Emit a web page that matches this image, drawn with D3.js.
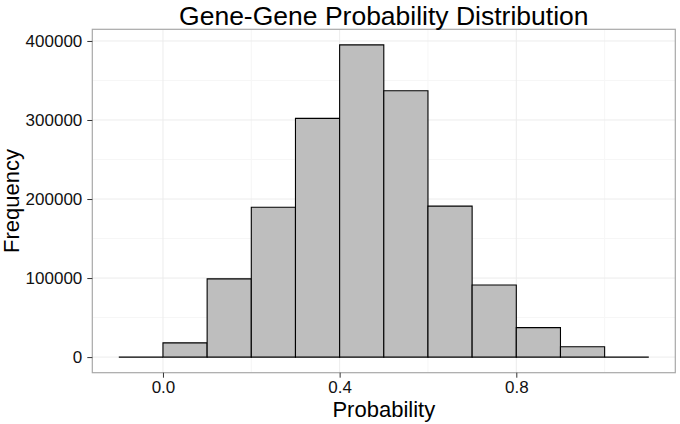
<!DOCTYPE html>
<html>
<head>
<meta charset="utf-8">
<script src="https://cdn.jsdelivr.net/npm/d3@7"></script>
<style>
  body { margin: 0; background: #fff; }
  text { font-family: "Liberation Sans", Arial, Helvetica, sans-serif; }
</style>
</head>
<body>
<svg id="chart" width="680" height="424"></svg>
<script>
// histogram bins (left edges, width 0.1) and counts
const binStarts = [-0.1, 0.0, 0.1, 0.2, 0.3, 0.4, 0.5, 0.6, 0.7, 0.8, 0.9, 1.0];
const counts = [0, 18000, 99000, 189500, 302000, 395000, 337000, 191000, 91300, 37300, 13000, 0];
const binWidth = 0.1;
const xTicks = [0.0, 0.4, 0.8];
const xMinor = [0.2, 0.6, 1.0];
const yTicks = [0, 100000, 200000, 300000, 400000];
const yMinor = [50000, 150000, 250000, 350000];

const svg = d3.select("#chart");

const pLeft = 92.3, pRight = 675.3, pTop = 29.3, pBottom = 372.7;

const x = d3.scaleLinear().domain([-0.16, 1.16]).range([pLeft, pRight]);
const y = d3.scaleLinear().domain([-19750, 414750]).range([pBottom, pTop]);

const grid = svg.append("g");

grid.selectAll(".xminor")
	.data(xMinor)
	.enter()
	.append("line")
	.attr("x1", d => x(d)).attr("x2", d => x(d))
	.attr("y1", pTop).attr("y2", pBottom)
	.attr("stroke", "#f6f6f6").attr("stroke-width", 1);

grid.selectAll(".yminor")
	.data(yMinor)
	.enter()
	.append("line")
	.attr("x1", pLeft).attr("x2", pRight)
	.attr("y1", d => y(d)).attr("y2", d => y(d))
	.attr("stroke", "#f6f6f6").attr("stroke-width", 1);

grid.selectAll(".xmajor")
	.data(xTicks)
	.enter()
	.append("line")
	.attr("x1", d => x(d)).attr("x2", d => x(d))
	.attr("y1", pTop).attr("y2", pBottom)
	.attr("stroke", "#ececec").attr("stroke-width", 1);

grid.selectAll(".ymajor")
	.data(yTicks)
	.enter()
	.append("line")
	.attr("x1", pLeft).attr("x2", pRight)
	.attr("y1", d => y(d)).attr("y2", d => y(d))
	.attr("stroke", "#ececec").attr("stroke-width", 1);

// bars as paths so empty bins still show their baseline
svg.append("g").selectAll("path")
	.data(binStarts)
	.enter()
	.append("path")
	.attr("d", (d, i) => {
		const x0 = x(d), x1 = x(d + binWidth), y0 = y(0), y1 = y(counts[i]);
		return `M${x0},${y0}V${y1}H${x1}V${y0}Z`;
	})
	.attr("fill", "#bebebe")
	.attr("stroke", "#000")
	.attr("stroke-width", 1.1);

// panel border
svg.append("rect")
	.attr("x", pLeft).attr("y", pTop)
	.attr("width", pRight - pLeft).attr("height", pBottom - pTop)
	.attr("fill", "none")
	.attr("stroke", "#a8a8a8")
	.attr("stroke-width", 1.2);

// axes
const xAxis = svg.append("g")
	.attr("transform", `translate(0,${pBottom})`)
	.call(d3.axisBottom(x).tickValues(xTicks).tickFormat(d3.format(".1f")).tickSize(5).tickPadding(3));

const yAxis = svg.append("g")
	.attr("transform", `translate(${pLeft},0)`)
	.call(d3.axisLeft(y).tickValues(yTicks).tickFormat(d3.format("d")).tickSize(5).tickPadding(5));

[xAxis, yAxis].forEach(a => {
	a.select(".domain").remove();
	a.selectAll(".tick line").attr("stroke", "#333").attr("stroke-width", 1);
	a.selectAll(".tick text")
		.attr("fill", "#111")
		.style("font-size", "17px")
		.style("font-family", "'Liberation Sans', Arial, sans-serif");
});

// titles
svg.append("text")
	.attr("x", (pLeft + pRight) / 2)
	.attr("y", 25)
	.attr("text-anchor", "middle")
	.style("font-size", "26.5px")
	.attr("fill", "#000")
	.text("Gene-Gene Probability Distribution");

svg.append("text")
	.attr("x", (pLeft + pRight) / 2)
	.attr("y", 417)
	.attr("text-anchor", "middle")
	.style("font-size", "22px")
	.attr("fill", "#000")
	.text("Probability");

svg.append("text")
	.attr("transform", `translate(19,${(pTop + pBottom) / 2}) rotate(-90)`)
	.attr("text-anchor", "middle")
	.style("font-size", "22px")
	.attr("fill", "#000")
	.text("Frequency");
</script>
</body>
</html>
